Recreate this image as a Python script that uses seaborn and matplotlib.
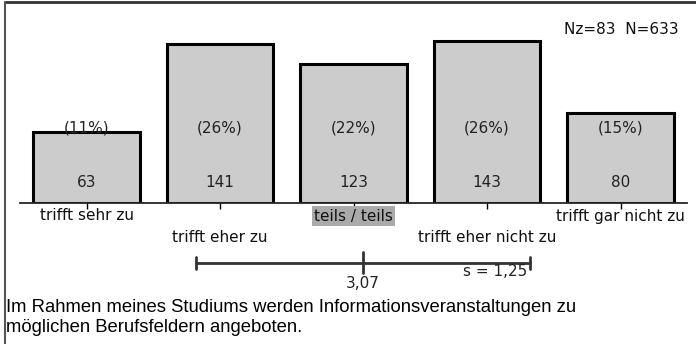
import numpy as np
import pandas as pd
import seaborn as sns
import matplotlib.pyplot as plt
import matplotlib.transforms as mtrans
from matplotlib.lines import Line2D

# data
categories = ['trifft sehr zu', 'trifft eher zu', 'teils / teils',
              'trifft eher nicht zu', 'trifft gar nicht zu']
counts = [63, 141, 123, 143, 80]
percents = ['(11%)', '(26%)', '(22%)', '(26%)', '(15%)']
mean_val = 3.07
sd_val = 1.25
nz = 83
n_total = 633
question_lines = ['Im Rahmen meines Studiums werden Informationsveranstaltungen zu',
                  'möglichen Berufsfeldern angeboten.']

df = pd.DataFrame({'antwort': categories, 'anzahl': counts})

sns.set_style('white')
plt.rcParams['font.family'] = ['DejaVu Sans']

W, H = 696, 344
fig = plt.figure(figsize=(W / 100, H / 100), dpi=100)

# axes placement in pixels (from top-left)
base_px = 203
px_per_unit = 1.13
left_px = 86.5 - 0.5 * 133.5
ax = fig.add_axes([left_px / W, (H - base_px) / H, 5 * 133.5 / W, base_px / H])

sns.barplot(data=df, x='antwort', y='anzahl', color='#cccccc', width=0.8,
            edgecolor='black', linewidth=2.2, saturation=1, ax=ax)
ax.set_xlim(-0.5, 4.5)
ax.set_ylim(0, base_px / px_per_unit)

for s in ['top', 'right', 'left']:
    ax.spines[s].set_visible(False)
ax.spines['bottom'].set_linewidth(1.3)
ax.set_yticks([])
ax.set_xlabel('')
ax.set_ylabel('')
ax.set_xticks(range(5))
ax.set_xticklabels([])
ax.tick_params(axis='x', direction='inout', length=8, width=1, color='black', bottom=True)
ax.patch.set_alpha(0)

fs = 11
for i, (c, p) in enumerate(zip(counts, percents)):
    ax.text(i, 66, p, ha='center', va='center', fontsize=fs, color='#222222')
    ax.text(i, 17.7, str(c), ha='center', va='center', fontsize=fs, color='#222222')

# category labels, alternating rows
tr = mtrans.blended_transform_factory(ax.transData, fig.transFigure)
for i, lab in enumerate(categories):
    y_px = 216 if i % 2 == 0 else 238
    kw = {}
    if i == 2:
        kw['bbox'] = dict(facecolor='#aaaaaa', edgecolor='none', pad=1.5)
    ax.text(i, 1 - y_px / H, lab, transform=tr, ha='center', va='center',
            fontsize=fs, color='#111111', clip_on=False, **kw)

# mean +/- sd bar
y_line = 1 - 263 / H
lo, hi = mean_val - sd_val - 1, mean_val + sd_val - 1
m = mean_val - 1
ax.plot([lo, hi], [y_line, y_line], transform=tr, color='#333333', lw=2, clip_on=False)
for xx in [lo, hi]:
    ax.plot([xx, xx], [1 - 257 / H, 1 - 269 / H], transform=tr, color='#333333',
            lw=2, clip_on=False)
ax.plot([m, m], [1 - 252 / H, 1 - 273 / H], transform=tr, color='#333333',
        lw=2, clip_on=False)
ax.text(m, 1 - 284 / H, f'{mean_val:.2f}'.replace('.', ','), transform=tr,
        ha='center', va='center', fontsize=fs, color='#222222', clip_on=False)
ax.text(hi - 0.02, 1 - 271 / H, f's = {sd_val:.2f}'.replace('.', ','), transform=tr,
        ha='right', va='center', fontsize=fs, color='#222222', clip_on=False)

fig.text(679 / W, 1 - 30 / H, f'Nz={nz}  N={n_total}', ha='right', va='center',
         fontsize=fs, color='#111111')

# question text below the chart
for k, line in enumerate(question_lines):
    fig.text(6 / W, 1 - (308 + 20 * k) / H, line, ha='left', va='center',
             fontsize=13.3, family=['Liberation Sans'], color='black')

# frame lines: top and left
fig.add_artist(Line2D([4.5 / W, 1], [1 - 1.5 / H, 1 - 1.5 / H], color='#333333', lw=2))
fig.add_artist(Line2D([4.5 / W, 4.5 / W], [0, 1 - 1.5 / H], color='#555555', lw=1.5))

fig.savefig('out.png', dpi=100)
